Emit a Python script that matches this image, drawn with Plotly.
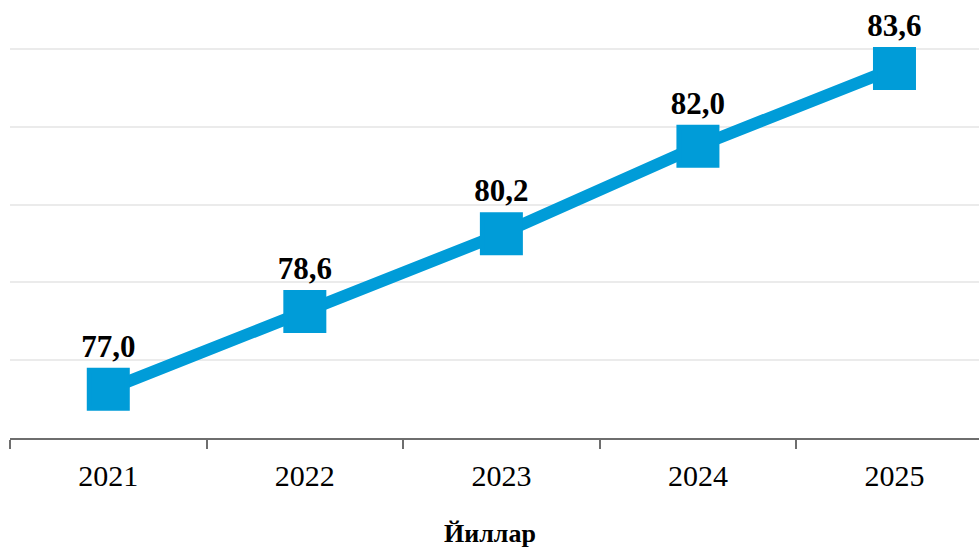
import plotly.graph_objects as go

years = ["2021", "2022", "2023", "2024", "2025"]
values = [77.0, 78.6, 80.2, 82.0, 83.6]
labels = [f"{v:.1f}".replace(".", ",") for v in values]
x_title = "Йиллар"

color = "#009cd8"
serif = "Liberation Serif, Times New Roman, serif"

fig = go.Figure()
fig.add_trace(go.Scatter(
    x=years, y=values,
    mode="lines+markers+text",
    line=dict(color=color, width=12),
    marker=dict(symbol="square", size=38, color=color,
                line=dict(color=color, width=5)),
    text=labels,
    textposition="top center",
    textfont=dict(family=serif, size=31, color="#000000", weight="bold"),
    cliponaxis=False,
    hoverinfo="skip",
))

fig.update_layout(
    width=979, height=547,
    margin=dict(l=10, r=0, t=47, b=109),
    paper_bgcolor="white", plot_bgcolor="white",
    showlegend=False,
    xaxis=dict(
        type="category",
        range=[-0.5, 4.43],
        tickson="boundaries",
        ticks="outside", ticklen=9, tickcolor="#6e6e6e", tickwidth=1.5,
        showline=True, linecolor="#6e6e6e", linewidth=1.5,
        showgrid=False, zeroline=False,
        tickfont=dict(family=serif, size=30, color="#000000"),
        ticklabelstandoff=10,
    ),
    yaxis=dict(
        range=[76, 84.04],
        tickvals=[76, 77.6, 79.2, 80.8, 82.4, 84.0],
        showticklabels=False,
        showgrid=True, gridcolor="#ebebeb", gridwidth=1.5,
        zeroline=False, showline=False,
    ),
    annotations=[dict(
        text=f"<b>{x_title}</b>", xref="paper", yref="paper",
        x=(489.5 - 10) / 969, y=(438 - 533) / 391,
        xanchor="center", yanchor="middle", showarrow=False,
        font=dict(family=serif, size=26, color="#000000"),
    )],
)

fig.write_html("out.html", config={"displayModeBar": False},
               post_script="document.body.style.margin='0';")
